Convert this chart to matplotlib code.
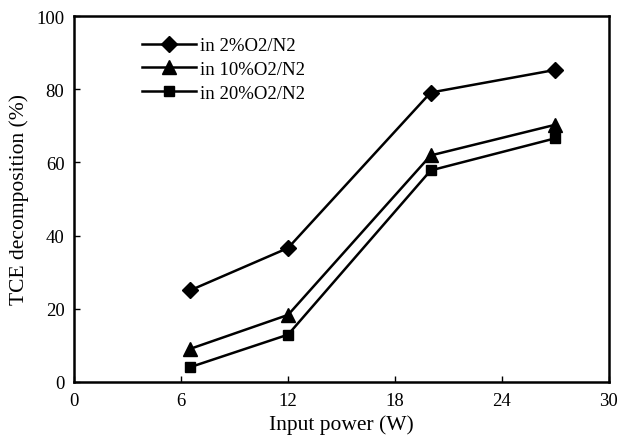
import matplotlib
matplotlib.use("Agg")
import matplotlib.pyplot as plt

plt.rcParams['font.family'] = ['Liberation Serif', 'DejaVu Serif']

# input power (W)
power = [6.5, 12, 20, 27]
# TCE decomposition (%)
dec_2 = [25, 36.6, 79.1, 85.3]
dec_10 = [9.0, 18.3, 61.9, 70.3]
dec_20 = [4.0, 12.9, 57.8, 66.6]
labels = ['in 2%O2/N2', 'in 10%O2/N2', 'in 20%O2/N2']

xticks = [0, 6, 12, 18, 24, 30]
yticks = [0, 20, 40, 60, 80, 100]

fig = plt.figure(figsize=(6.29, 4.39), dpi=100)
ax = fig.add_axes([0.118, 0.128, 0.850, 0.833])

ax.plot(power, dec_2, color='black', lw=1.8, marker='D', ms=8.5, label=labels[0])
ax.plot(power, dec_10, color='black', lw=1.8, marker='^', ms=10.5, label=labels[1])
ax.plot(power, dec_20, color='black', lw=1.8, marker='s', ms=7.5, label=labels[2])

ax.set_xlim(0, 30)
ax.set_ylim(0, 100)
ax.set_xticks(xticks)
ax.set_yticks(yticks)
ax.tick_params(direction='in', length=4, width=1, labelsize=13.5, pad=7)
for s in ax.spines.values():
    s.set_linewidth(1.8)

ax.set_xlabel('Input power (W)', fontsize=15.5, labelpad=4)
ax.set_ylabel('TCE decomposition (%)', fontsize=15.5, labelpad=5)

leg = ax.legend(loc='upper left', bbox_to_anchor=(0.112, 0.963), frameon=False,
                fontsize=13.5, handlelength=2.9, handletextpad=0.2,
                labelspacing=0.35, borderaxespad=0)

fig.savefig('out.png', dpi=100)
